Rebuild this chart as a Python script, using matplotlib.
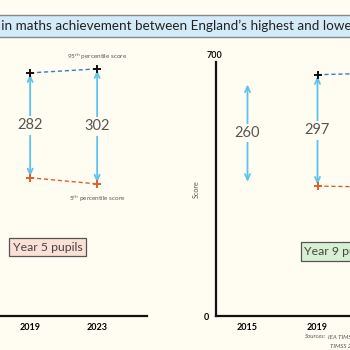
import matplotlib
matplotlib.use("Agg")
import matplotlib.pyplot as plt
from matplotlib.patches import Rectangle

plt.rcParams['font.family'] = ['Lato', 'DejaVu Sans']

BG = '#fffdf2'

# ---- data ----
y5_years = [2019, 2023]
y5_p95 = [670, 681]
y5_p5 = [381, 364]
y5_gap = [282, 302]

y9_years = [2015, 2019, 2023]
y9_p95 = [642, 665, 670]
y9_p5 = [366, 358, 355]
y9_gap = [260, 297, 315]
y9_marked = [False, True, True]

xticks_left = [2019, 2023]
xticks_right = [2015, 2019, 2023]

title_lead = "The gap "
title_rest = "in maths achievement between England\u2019s highest and lowest performers"

W = H = 350
fig = plt.figure(figsize=(3.5, 3.5), dpi=100, facecolor=BG)

def px_rect(x0, y_top, w, h):
    return [x0 / W, (H - y_top - h) / H, w / W, h / H]

ARROW = '#5cc3ef'
BLUE_D = '#3d7cb8'
ORANGE = '#d9622b'

def draw_panel(ax, years, p95, p5, gaps, marked):
    ax.set_facecolor('none')
    ax.set_ylim(0, 700)
    for i, yr in enumerate(years):
        ax.annotate('', xy=(yr, p95[i]), xytext=(yr, p5[i]),
                    arrowprops=dict(arrowstyle='<->,head_length=0.4,head_width=0.18',
                                    color=ARROW, lw=1.3, shrinkA=1, shrinkB=1))
        ax.text(yr, (p95[i] + p5[i]) / 2, str(gaps[i]), ha='center', va='center',
                fontsize=10.5, color='#555555',
                bbox=dict(boxstyle='square,pad=0.15', fc=BG, ec='none'))
    mx = [y for y, m in zip(years, marked) if m]
    m95 = [v for v, m in zip(p95, marked) if m]
    m5 = [v for v, m in zip(p5, marked) if m]
    ax.plot(mx, m95, ls=(0, (3, 2)), color=BLUE_D, lw=1.0, zorder=2)
    ax.plot(mx, m5, ls=(0, (3, 2)), color=ORANGE, lw=1.0, zorder=2)
    ax.plot(mx, m95, ls='none', marker='+', ms=5.5, mew=1.4, color='#111111', zorder=3)
    ax.plot(mx, m5, ls='none', marker='+', ms=5.5, mew=1.4, color=ORANGE, zorder=3)
    for s in ['top', 'right']:
        ax.spines[s].set_visible(False)
    for s in ['left', 'bottom']:
        ax.spines[s].set_linewidth(1.6)
        ax.spines[s].set_color('#111111')
    ax.tick_params(length=0, labelsize=6.5, pad=5)

# Left panel (Year 5)
axL = fig.add_axes(px_rect(-67, 62, 214.4, 254))
axL.set_xlim(2013.2, 2026.0)
axL.set_xticks(xticks_left)
axL.set_yticks([])
draw_panel(axL, y5_years, y5_p95, y5_p5, y5_gap, [True, True])
for lab in axL.get_xticklabels():
    lab.set_fontweight('bold')
axL.annotate('95$^{th}$ percentile score', xy=(2023, y5_p95[1]), xytext=(0, 5),
             textcoords='offset points', ha='center', va='bottom', fontsize=4.6, color='#555555')
axL.annotate('5$^{th}$ percentile score', xy=(2023, y5_p5[1]), xytext=(0, -7),
             textcoords='offset points', ha='center', va='top', fontsize=4.6, color='#555555')
axL.text(2017.95, 190, 'Year 5 pupils', ha='left', va='center', fontsize=8.8, color='#444444',
         bbox=dict(boxstyle='square,pad=0.3', fc='#fbe0d6', ec='#555555', lw=0.9))

# Right panel (Year 9)
axR = fig.add_axes(px_rect(216, 62, 217, 254))
axR.set_xlim(2013.2, 2025.6)
axR.set_xticks(xticks_right)
axR.set_yticks([0])
axR.set_yticklabels(['0'])
draw_panel(axR, y9_years, y9_p95, y9_p5, y9_gap, y9_marked)
for lab in axR.get_xticklabels() + axR.get_yticklabels():
    lab.set_fontweight('bold')
axR.text(2013.1, 706, '700', ha='center', va='bottom', fontsize=6.5, fontweight='bold', color='#111111')
axR.set_ylabel('Score', fontsize=5.2, color='#555555', labelpad=3)
axR.text(2018.25, 178, 'Year 9 pupils', ha='left', va='center', fontsize=8.8, color='#444444',
         bbox=dict(boxstyle='square,pad=0.3', fc='#d8f0d2', ec='#555555', lw=0.9))

# Title banner
fig.patches.append(Rectangle((-0.05, (H - 37) / H), 1.1, 22 / H, transform=fig.transFigure,
                             fc='#d3eaf8', ec='#888888', lw=1.0, zorder=0))
r = fig.canvas.get_renderer()
tmp = fig.text(0, 0, title_lead, fontsize=9.7)
lead_w = tmp.get_window_extent(renderer=r).width
tmp.remove()
fig.text((1 - lead_w) / W, (H - 26) / H, title_lead + title_rest, ha='left', va='center',
         fontsize=9.7, color='#222222')

# Sources
fig.text(305 / W, (H - 337) / H, 'Sources:', ha='left', va='center', fontsize=4.4,
         style='italic', color='#555555')
fig.text(328 / W, (H - 337) / H, 'IEA TIMSS 2015, 2019 and 2023 International Database;',
         ha='left', va='center', fontsize=4.4, style='italic', color='#555555')
fig.text(330 / W, (H - 346) / H, 'TIMSS 2023 National Report for England',
         ha='left', va='center', fontsize=4.4, style='italic', color='#555555')

fig.savefig('out.png', dpi=100, facecolor=BG)
